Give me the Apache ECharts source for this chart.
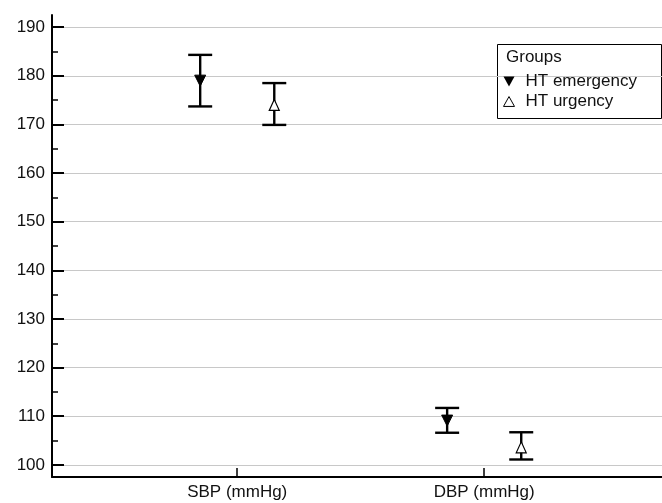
<!DOCTYPE html>
<html>
<head>
<meta charset="utf-8">
<script src="https://cdn.jsdelivr.net/npm/echarts@6/dist/echarts.min.js"></script>
<style>html,body{margin:0;padding:0;background:#fff}#c{width:662px;height:503px}</style>
</head>
<body>
<div id="c"></div>
<script>
var categories = ["SBP (mmHg)", "DBP (mmHg)"];
var groups = ["HT emergency", "HT urgency"];
var emergencyMean = [179.0, 109.1];
var emergencyLow = [173.7, 106.6];
var emergencyHigh = [184.3, 111.7];
var urgencyMean = [174.0, 103.6];
var urgencyLow = [169.9, 101.1];
var urgencyHigh = [178.5, 106.7];
var yMajorTicks = [100, 110, 120, 130, 140, 150, 160, 170, 180, 190];
var yMinorTicks = [105, 115, 125, 135, 145, 155, 165, 175, 185];

var dodge = 0.15;
function pos(i, g) { return i + 1 + (g === 0 ? -dodge : dodge); }

var emBars = categories.map(function (c, i) { return [pos(i, 0), emergencyLow[i], emergencyHigh[i]]; });
var urBars = categories.map(function (c, i) { return [pos(i, 1), urgencyLow[i], urgencyHigh[i]]; });
var emPts = categories.map(function (c, i) { return [pos(i, 0), emergencyMean[i]]; });
var urPts = categories.map(function (c, i) { return [pos(i, 1), urgencyMean[i]]; });

function errRender(params, api) {
  var x = api.value(0);
  var lo = api.coord([x, api.value(1)]);
  var hi = api.coord([x, api.value(2)]);
  var hw = 12;
  var st = { stroke: '#000', lineWidth: 2.4 };
  return {
    type: 'group',
    children: [
      { type: 'line', shape: { x1: lo[0], y1: lo[1], x2: hi[0], y2: hi[1] }, style: st },
      { type: 'line', shape: { x1: lo[0] - hw, y1: lo[1], x2: lo[0] + hw, y2: lo[1] }, style: st },
      { type: 'line', shape: { x1: hi[0] - hw, y1: hi[1], x2: hi[0] + hw, y2: hi[1] }, style: st }
    ]
  };
}

var chart = echarts.init(document.getElementById('c'), null, { renderer: 'canvas' });
var font = 'Liberation Sans, Arial, sans-serif';
chart.setOption({
  animation: false,
  textStyle: { fontFamily: font },
  grid: { left: 52, top: 15, right: 0, height: 462, containLabel: false },
  xAxis: {
    type: 'value', min: 0.25, max: 2.72,
    axisLine: { show: true, onZero: false, lineStyle: { color: '#000', width: 2 } },
    axisTick: { show: true, inside: true, length: 9, customValues: [1, 2], lineStyle: { color: '#000', width: 1.5 } },
    axisLabel: { customValues: [1, 2], margin: 7, fontSize: 17, color: '#111', fontFamily: font,
      formatter: function (v) { return categories[Math.round(v) - 1] || ''; } },
    splitLine: { show: false }
  },
  yAxis: [{
    type: 'value', min: 97.5, max: 192.5,
    axisLine: { show: true, lineStyle: { color: '#000', width: 2 } },
    axisTick: { show: true, inside: true, length: 12, customValues: yMajorTicks, lineStyle: { color: '#000', width: 2 } },
    axisLabel: { customValues: yMajorTicks, margin: 7, fontSize: 17, color: '#111', fontFamily: font },
    splitLine: { show: true, lineStyle: { color: '#c8c8c8', width: 1 } }
  }, {
    type: 'value', min: 97.5, max: 192.5, position: 'left',
    axisLine: { show: false },
    axisTick: { show: true, inside: true, length: 6, customValues: yMinorTicks, lineStyle: { color: '#000', width: 1.5 } },
    axisLabel: { show: false },
    splitLine: { show: false }
  }],
  legend: {
    left: 498, top: 68, orient: 'vertical', itemGap: 3, itemWidth: 11, itemHeight: 10,
    textStyle: { fontSize: 17, color: '#111', fontFamily: font, padding: [0, 0, 0, 6] },
    data: [
      { name: groups[0], icon: 'path://M0,0L10,0L5,9Z', itemStyle: { color: '#000', borderWidth: 0 } },
      { name: groups[1], icon: 'path://M5,0L10,9L0,9Z', itemStyle: { color: '#fff', borderColor: '#000', borderWidth: 1 } }
    ]
  },
  graphic: [
    { type: 'rect', left: 495, top: 42, shape: { width: 164, height: 74 }, style: { fill: 'none', stroke: '#000', lineWidth: 1 }, z: 0 },
    { type: 'text', left: 506, top: 49, style: { text: 'Groups', fill: '#111', font: '17px ' + font }, z: 10 }
  ],
  series: [
    { type: 'custom', name: 'errEm', renderItem: errRender, data: emBars, z: 2, encode: { x: 0, y: [1, 2] } },
    { type: 'custom', name: 'errUr', renderItem: errRender, data: urBars, z: 2, encode: { x: 0, y: [1, 2] } },
    { type: 'scatter', name: groups[0], data: emPts, symbol: 'triangle', symbolRotate: 180, symbolSize: [11, 11],
      itemStyle: { color: '#000', borderColor: '#000', borderWidth: 1, opacity: 1 }, z: 5 },
    { type: 'scatter', name: groups[1], data: urPts, symbol: 'triangle', symbolSize: [10, 11],
      itemStyle: { color: '#fff', borderColor: '#000', borderWidth: 1.2, opacity: 1 }, z: 5 }
  ]
});
</script>
</body>
</html>
